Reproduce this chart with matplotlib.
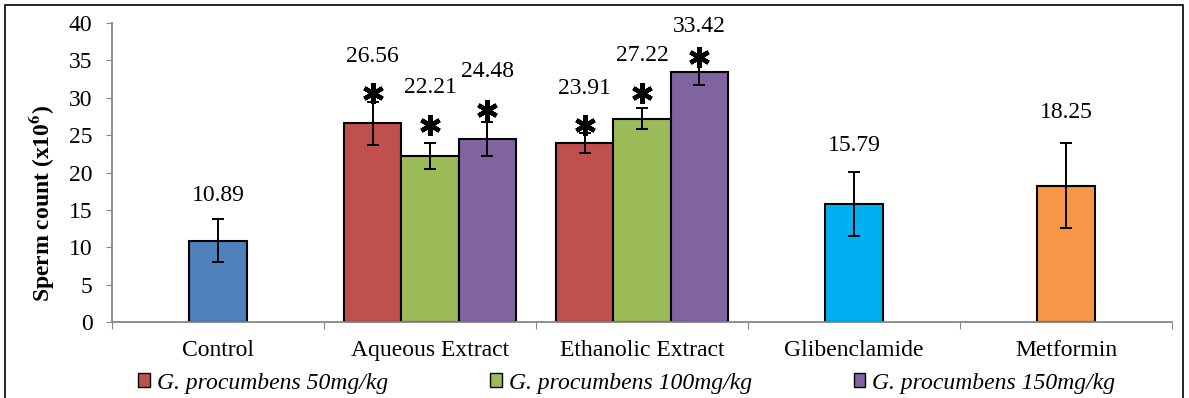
import matplotlib
matplotlib.use("Agg")
import matplotlib.pyplot as plt
from matplotlib.patches import Patch, Rectangle
import matplotlib.transforms as mtrans
import numpy as np

plt.rcParams['font.family'] = ['Liberation Serif', 'DejaVu Serif']
plt.rcParams['mathtext.fontset'] = 'stix'

# ---- data ----
categories = ["Control", "Aqueous Extract", "Ethanolic Extract", "Glibenclamide", "Metformin"]
series_names = ["G. procumbens 50mg/kg", "G. procumbens 100mg/kg", "G. procumbens 150mg/kg"]
control_val, control_err = 10.89, 2.85
aqueous_vals = [26.56, 22.21, 24.48]
aqueous_errs = [2.9, 1.7, 2.3]
ethanolic_vals = [23.91, 27.22, 33.42]
ethanolic_errs = [1.35, 1.35, 1.7]
glib_val, glib_err = 15.79, 4.3
metf_val, metf_err = 18.25, 5.7
significant_aqueous = [True, True, True]
significant_ethanolic = [True, True, True]

# ---- styles ----
series_colors = ["#C0504D", "#9BBB59", "#8064A2"]
control_color = "#4F81BD"
glib_color = "#00B0F0"
metf_color = "#F79646"
bar_w = 0.271
FS = 17

W, H = 1189, 398
fig = plt.figure(figsize=(W/100, H/100), dpi=100)
ax = fig.add_axes([112/W, 76/H, (1172-112)/W, 299/H])

ekw = dict(ecolor='black', elinewidth=1.4, capsize=4.5, capthick=1.4)
bkw = dict(edgecolor='black', linewidth=1.5, zorder=2)

bars = []
# label offsets (pixels above error-bar top), asterisk offsets (pixels)
lab_off = {"ctrl": 24, "aq": [45, 56, 50], "et": [45, 53, 33], "gl": 26, "mf": 30}
star_off = {"aq": [9, 18, 12], "et": [8, 15, 2]}

ax.bar(0, control_val, bar_w, yerr=control_err, color=control_color, error_kw=ekw, **bkw)
bars.append((0, control_val, control_err, lab_off["ctrl"], False, 0))
for i in range(3):
    x = 1 + (i - 1) * bar_w
    ax.bar(x, aqueous_vals[i], bar_w, yerr=aqueous_errs[i], color=series_colors[i], error_kw=ekw, **bkw)
    bars.append((x, aqueous_vals[i], aqueous_errs[i], lab_off["aq"][i], significant_aqueous[i], star_off["aq"][i]))
for i in range(3):
    x = 2 + (i - 1) * bar_w
    ax.bar(x, ethanolic_vals[i], bar_w, yerr=ethanolic_errs[i], color=series_colors[i], error_kw=ekw, **bkw)
    bars.append((x, ethanolic_vals[i], ethanolic_errs[i], lab_off["et"][i], significant_ethanolic[i], star_off["et"][i]))
ax.bar(3, glib_val, bar_w, yerr=glib_err, color=glib_color, error_kw=ekw, **bkw)
bars.append((3, glib_val, glib_err, lab_off["gl"], False, 0))
ax.bar(4, metf_val, bar_w, yerr=metf_err, color=metf_color, error_kw=ekw, **bkw)
bars.append((4, metf_val, metf_err, lab_off["mf"], False, 0))

for (x, v, e, lo, star, so) in bars:
    ax.annotate(f"{v:.2f}", xy=(x, v + e), xytext=(0, lo * 0.72), textcoords='offset points',
                ha='center', va='center', fontsize=FS, zorder=5)
    if star:
        ax.plot([x], [v + e], linestyle='none', marker=(6, 2, 0), markersize=15,
                markeredgewidth=3.2, color='black', zorder=6,
                transform=ax.transData + mtrans.ScaledTranslation(0, so/100, fig.dpi_scale_trans))

ax.set_xlim(-0.5, 4.5)
ax.set_ylim(0, 40)
ax.set_yticks(np.arange(0, 41, 5))
ax.tick_params(axis='y', labelsize=FS, length=4, color='#868686', pad=10)
ax.set_xticks(np.arange(-0.5, 4.6, 1.0))
ax.set_xticklabels([])
ax.tick_params(axis='x', which='major', length=5, color='#868686')
ax.set_xticks(np.arange(len(categories)), minor=True)
ax.set_xticklabels(categories, minor=True, fontsize=FS)
ax.tick_params(axis='x', which='minor', length=0, pad=13)
for s in ['top', 'right']:
    ax.spines[s].set_visible(False)
for s in ['left', 'bottom']:
    ax.spines[s].set_color('#868686')
    ax.spines[s].set_linewidth(1.3)

ax.set_ylabel(r'Sperm count (x10$\mathbf{^{6}}$)', fontsize=FS, fontweight='bold')
ax.yaxis.set_label_coords(-0.052, 0.398)

handles = [Patch(facecolor=c, edgecolor='black', linewidth=1.0) for c in series_colors]
fig.legend(handles, series_names, loc='center', bbox_to_anchor=(627/W, 1 - 383/H), ncol=3,
           frameon=False, prop=dict(family='Liberation Serif', style='italic', size=FS),
           handlelength=0.5, handleheight=0.5, handletextpad=0.3, columnspacing=4.3)

fig.add_artist(Rectangle((5/W, -0.1), (1183-5)/W, 1.1 - 5/H, transform=fig.transFigure,
                         fill=False, edgecolor='black', linewidth=1.2))

fig.savefig("out.png", dpi=100)
